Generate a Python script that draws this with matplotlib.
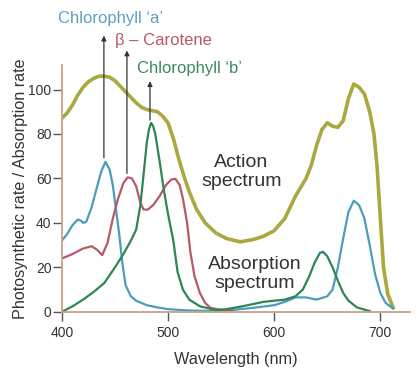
import numpy as np
import matplotlib
matplotlib.use("Agg")
import matplotlib.pyplot as plt

plt.rcParams['font.family'] = ['Liberation Sans', 'DejaVu Sans']

# action spectrum (photosynthetic rate)
action_nm = [400, 405, 410, 415, 420, 425, 430, 435, 440, 445, 450, 455, 460, 465, 470,
             475, 480, 485, 490, 495, 500, 505, 510, 515, 520, 527, 535, 545, 555, 568,
             580, 590, 600, 610, 620, 630, 635, 640, 645, 650, 655, 660, 665, 670, 675,
             680, 685, 690, 694, 697, 700, 703, 707, 712]
action_val = [87, 89.5, 93, 97.5, 101, 103.5, 105, 106, 106, 105.5, 104, 101.5, 99, 96.5, 94,
              92, 91, 90.5, 90, 88, 85, 78, 69, 61, 54, 46, 40, 35.5, 33, 31.5,
              32.5, 34, 36.5, 42, 52, 60, 66, 75, 82, 85, 83.5, 83, 86, 96, 102.5,
              101, 98, 90, 80, 65, 42, 20, 8, 2]

# chlorophyll a absorption
chla_nm = [400, 405, 410, 415, 418, 420, 423, 428, 433, 437, 441, 445, 448, 451, 454,
           457, 460, 465, 470, 480, 490, 500, 520, 540, 560, 580, 600, 610, 620, 630,
           640, 650, 655, 660, 665, 670, 675, 680, 685, 690, 695, 700, 705, 712]
chla_val = [32, 35, 39, 41.5, 41, 40, 40.5, 47, 56, 63, 67.5, 64, 57, 46, 35,
            22, 12, 7, 5, 3, 2, 1.2, 0.6, 0.4, 0.8, 1.8, 3, 4.5, 6.5, 6.5,
            5.5, 7, 10, 20, 33, 45, 50, 48, 42, 30, 17, 8.5, 4, 1.5]

# beta carotene absorption
carot_nm = [400, 410, 420, 428, 433, 438, 443, 448, 453, 458, 462, 466, 470, 474, 477,
            481, 486, 492, 498, 503, 507, 511, 514, 518, 521, 525, 530, 535, 540, 550, 560]
carot_val = [24, 26, 28.5, 29.5, 28, 25.5, 31, 42, 51, 58, 60.5, 60, 56.5, 49, 46,
             46, 48, 52, 57, 59.5, 59.8, 57, 51, 40, 27, 16, 8.5, 4, 1.8, 0.9, 0.6]

# chlorophyll b absorption
chlb_nm = [400, 410, 420, 430, 440, 450, 458, 465, 470, 474, 477, 480, 482, 484, 486,
           488, 492, 496, 500, 505, 509, 514, 520, 530, 545, 555, 570, 590, 610, 620,
           627, 633, 638, 643, 646, 650, 655, 660, 665, 670, 678, 690]
chlb_val = [0, 2.5, 5.5, 9, 13, 20, 26, 32, 37, 48, 62, 76, 82, 85, 83.5,
            80, 68, 55, 44, 32, 18, 10, 5.5, 2.5, 0.8, 1.2, 2.5, 4.5, 5.5, 7,
            10, 16, 22, 26.5, 27, 25, 20, 14, 8.5, 5, 2, 0.3]

x_ticks = [400, 500, 600, 700]
y_ticks = [0, 20, 40, 60, 80, 100]

c_action = '#aaa83e'
c_chla = '#4c9cbc'
c_carot = '#b65a69'
c_chlb = '#2f8553'
spine_col = '#c9a384'

fig = plt.figure(figsize=(4.18, 3.85), dpi=100)
ax = fig.add_axes([0.148, 0.19, 0.833, 0.641])

ax.plot(action_nm, action_val, color=c_action, lw=2.6, solid_joinstyle='round')
ax.plot(chla_nm, chla_val, color=c_chla, lw=1.6, solid_joinstyle='round')
ax.plot(carot_nm, carot_val, color=c_carot, lw=1.6, solid_joinstyle='round')
ax.plot(chlb_nm, chlb_val, color=c_chlb, lw=1.6, solid_joinstyle='round')

ax.set_xlim(400, 728)
ax.set_ylim(0, 111)

for s in ['top', 'right']:
    ax.spines[s].set_visible(False)
for s in ['left', 'bottom']:
    ax.spines[s].set_color(spine_col)
    ax.spines[s].set_linewidth(1.3)

ax.set_xticks(x_ticks)
ax.set_yticks(y_ticks)
ax.tick_params(axis='both', colors='#555555', labelcolor='#333333', labelsize=10,
               length=6.5, width=1)
ax.tick_params(axis='x', pad=4)
ax.tick_params(axis='y', pad=1)

ax.set_xlabel('Wavelength (nm)', fontsize=11.7, color='#333333', labelpad=8)
ax.set_ylabel('Photosynthetic rate / Absorption rate', fontsize=11.6, color='#333333',
              labelpad=0)

# pointer arrows from labels to pigment peaks
arrow_kw = dict(arrowstyle='-|>', color='#333333', lw=0.9, mutation_scale=7)
ax.annotate('', xy=(439.6, 125.5), xytext=(439.6, 68), arrowprops=arrow_kw,
            annotation_clip=False)
ax.annotate('', xy=(461.3, 118.8), xytext=(461.3, 61), arrowprops=arrow_kw,
            annotation_clip=False)
ax.annotate('', xy=(483, 105), xytext=(483, 85), arrowprops=arrow_kw,
            annotation_clip=False)

ax.text(446, 131.8, "Chlorophyll \u2018a\u2019", color='#5fa0bf', fontsize=12,
        ha='center', va='center', clip_on=False)
ax.text(496, 122, "\u03b2 \u2013 Carotene", color='#b65a69', fontsize=12,
        ha='center', va='center', clip_on=False)
ax.text(520, 109.4, "Chlorophyll \u2018b\u2019", color='#3d8a62', fontsize=12,
        ha='center', va='center', clip_on=False)

ax.text(569, 62.8, "Action\nspectrum", color='#333333', fontsize=14,
        ha='center', va='center', linespacing=1.15)
ax.text(582, 17, "Absorption\nspectrum", color='#333333', fontsize=14,
        ha='center', va='center', linespacing=1.15)

fig.savefig('out.png', dpi=100)
